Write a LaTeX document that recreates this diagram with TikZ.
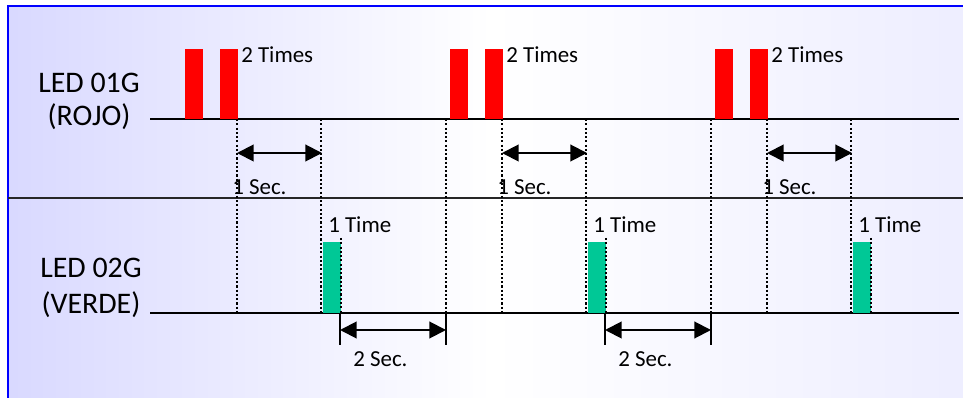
\documentclass[tikz,border=0pt]{standalone}
\usepackage{fontspec}
\setmainfont{Carlito}
\usepackage{xcolor}
\usetikzlibrary{arrows.meta, positioning}

\definecolor{ledgreen}{RGB}{0,200,150}

\begin{document}
\begin{tikzpicture}[x=0.75pt, y=-0.75pt,
  base/.style={line width=1.5pt},
  tick/.style={line width=1.8pt, dash pattern=on 1.6pt off 1.6pt},
  dim/.style={{Triangle[length=12.5pt, width=12.5pt]}-{Triangle[length=12.5pt, width=12.5pt]}, line width=1.5pt},
  lab/.style={font=\fontsize{17.2}{18}\selectfont, inner sep=0pt, anchor=west},
  led/.style={font=\fontsize{22.4}{#1}\selectfont, align=center, inner sep=0pt},
]
  % Frame
  \useasboundingbox (0,0) rectangle (963,398);
  \clip (0,0) rectangle (963,398);
  \draw[blue, line width=1.5pt, left color=blue!15, right color=blue!7, middle color=white] (8,6) rectangle (975,410);
  \draw[base, black!85] (8,198) -- (975,198);

  % LED names
  \node[led=24.75pt] (led1) at (89,101) {LED 01G\\(ROJO)};
  \node[led=27pt] (led2) at (91,288) {LED 02G\\(VERDE)};

  % Baselines
  \coordinate (redL) at (150,119);
  \coordinate (redR) at (959,119);
  \coordinate (grnL) at (150,313);
  \coordinate (grnR) at (959,313);
  \draw[base] (redL) -- (redR);
  \draw[base] (grnL) -- (grnR);

  % Three blink cycles
  \foreach \k in {0,1,2}{
    \pgfmathsetmacro{\d}{265*\k}
    \fill[red] ({185+\d},49) rectangle ({203+\d},119);
    \fill[red] ({220+\d},49) rectangle ({238+\d},119);
    \node[lab] (two\k) at ({241+\d},55) {2 Times};
    \node[lab] (sec\k) at ({232+\d},187) {1 Sec.};
    \draw[tick] ({237+\d},119) -- ({237+\d},313);
    \draw[tick] ({321+\d},119) -- ({321+\d},313);
    \coordinate (sl\k) at ({237+\d},153);
    \coordinate (sr\k) at ({322+\d},153);
    \draw[dim] (sl\k) -- (sr\k);
    \fill[ledgreen] ({323+\d},242) rectangle ({341+\d},313);
    \draw[tick] ({341+\d},238) -- ({341+\d},313);
    \node[lab] (one\k) at ({328+\d},224.5) {1 Time};
  }

  % Two-second gaps
  \foreach \k in {0,1}{
    \pgfmathsetmacro{\d}{265*\k}
    \draw[tick] ({446+\d},119) -- ({446+\d},313);
    \coordinate (gl\k) at ({340+\d},330);
    \coordinate (gr\k) at ({446+\d},330);
    \draw[base] ({340+\d},313) -- ({340+\d},345);
    \draw[base] ({446+\d},313) -- ({446+\d},345);
    \draw[dim] (gl\k) -- (gr\k);
    \node[lab] (gap\k) at ({353+\d},359) {2 Sec.};
  }
\end{tikzpicture}
\end{document}
